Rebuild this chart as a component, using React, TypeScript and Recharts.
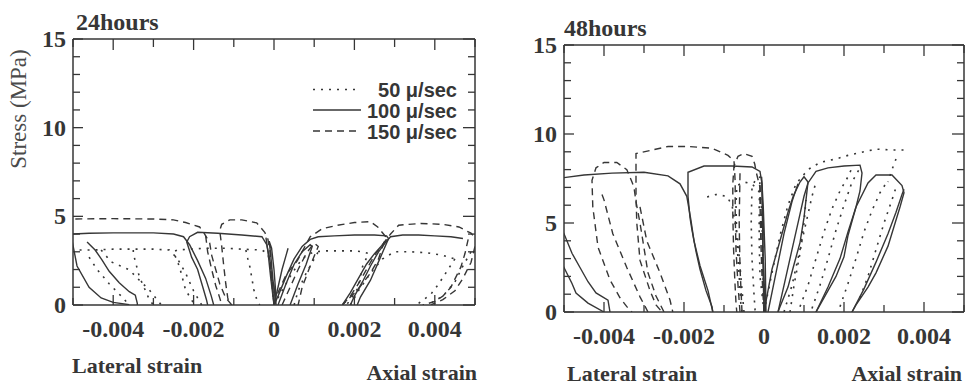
import React from 'react';
import { LineChart, Line, XAxis, YAxis } from 'recharts';

type Pt = [number, number];

// ---------- axis ticks ----------
const X_TICKS = [-0.005, -0.004, -0.003, -0.002, -0.001, 0, 0.001, 0.002, 0.003, 0.004, 0.005];
const X_LABELED = [-0.004, -0.002, 0, 0.002, 0.004];
const Y_TICKS = [0, 1, 2, 3, 4, 5, 6, 7, 8, 9, 10, 11, 12, 13, 14, 15];
const Y_LABELED = [0, 5, 10, 15];

// ---------- 24 hours : 100 µ/sec (solid) ----------
const S24_1: Pt[] = [[0, 0], [-0.00004, 1.2], [-0.0001, 2.5], [-0.00018, 3.4], [-0.0003, 3.85], [-0.0008, 3.95], [-0.0014, 4.05], [-0.0019, 4.1], [-0.0021, 3.85], [-0.00217, 3.55], [-0.00205, 2.7], [-0.0019, 2.0], [-0.00177, 1.0], [-0.00168, 0.3], [-0.00165, 0]];
const S24_2: Pt[] = [[-0.0015, 0], [-0.00156, 0.5], [-0.0017, 1.5], [-0.0019, 2.5], [-0.0021, 3.4], [-0.00225, 3.85], [-0.0025, 4.0], [-0.003, 4.07], [-0.004, 4.07], [-0.0046, 4.05], [-0.005, 4.0], [-0.0052, 3.9]];
const S24_3: Pt[] = [[-0.0052, 3.9], [-0.00502, 3.6], [-0.0049, 2.2], [-0.0046, 1.0], [-0.0043, 0.4], [-0.004, 0.15], [-0.0036, 0.02]];
const S24_4: Pt[] = [[-0.00465, 3.55], [-0.00445, 3.1], [-0.00428, 2.55], [-0.0041, 1.9], [-0.00385, 1.25], [-0.0036, 0.75], [-0.00345, 0.55], [-0.0034, 0.1], [-0.0034, 0]];
const S24_5: Pt[] = [[0.00005, 0], [-0.00003, 1.5], [-0.00008, 2.8], [-0.00012, 3.6], [-0.00006, 3.2], [0, 2.0], [0.00004, 0.8], [0.00005, 0]];
const S24_6: Pt[] = [[0, 0], [0.0001, 0.5], [0.0003, 1.6], [0.0005, 2.6], [0.0007, 3.3], [0.0009, 3.7], [0.0011, 3.85], [0.0015, 3.9], [0.002, 3.95], [0.0025, 3.95], [0.0028, 3.9], [0.00285, 3.75], [0.00265, 2.7], [0.0024, 1.4], [0.00215, 0.45], [0.00207, 0]];
const S24_7: Pt[] = [[0.0019, 0], [0.002, 0.5], [0.0022, 1.3], [0.0024, 2.2], [0.0026, 3.0], [0.0028, 3.6], [0.0029, 3.85], [0.0032, 3.95], [0.0036, 3.95], [0.004, 3.9], [0.0044, 3.85], [0.0047, 3.75]];
const S24_8: Pt[] = [[0.0001, 0], [0.0003, 1.2], [0.0005, 2.3], [0.0007, 3.0], [0.0009, 3.4], [0.00095, 3.3], [0.0008, 2.3], [0.0006, 1.2], [0.00045, 0.3], [0.0004, 0]];
const S24_9: Pt[] = [[0.0017, 0], [0.0019, 0.7], [0.0021, 1.5], [0.0023, 2.3], [0.0025, 2.9], [0.0027, 3.4], [0.0028, 3.7]];
const S24_10: Pt[] = [[0, 0], [0.0001, 1.0], [0.0002, 2.0], [0.0003, 2.8], [0.00035, 3.2]];
const S24_11: Pt[] = [[0, 0], [-0.00008, 1.5], [-0.00015, 3.0], [-0.0002, 3.8]];

// ---------- 24 hours : 150 µ/sec (dashed) ----------
const D24_1: Pt[] = [[0, 0], [-0.00004, 1.2], [-0.00008, 2.2], [-0.0001, 3.0], [-0.00015, 3.7], [-0.00023, 4.1], [-0.00043, 4.63], [-0.0008, 4.8], [-0.0011, 4.8], [-0.0013, 4.55], [-0.00135, 4.2], [-0.0013, 3.3], [-0.00125, 2.2], [-0.0012, 1.2], [-0.00115, 0.4], [-0.0011, 0]];
const D24_2: Pt[] = [[-0.00105, 0], [-0.0012, 0.4], [-0.00135, 1.2], [-0.00145, 2.0], [-0.00155, 2.8], [-0.0016, 3.5], [-0.00175, 4.1], [-0.00185, 4.4], [-0.0022, 4.65], [-0.0025, 4.8], [-0.003, 4.85], [-0.004, 4.87], [-0.005, 4.85]];
const D24_3: Pt[] = [[-0.0017, 3.9], [-0.00165, 3.0], [-0.00155, 2.0], [-0.00145, 1.1], [-0.00135, 0.4], [-0.0013, 0]];
const D24_4: Pt[] = [[0, 0], [0.0001, 0.7], [0.0003, 1.7], [0.00058, 2.5], [0.0009, 3.85], [0.0012, 4.3], [0.00158, 4.5], [0.002, 4.65], [0.0024, 4.7], [0.00258, 4.4], [0.00278, 3.85], [0.00273, 3.5], [0.0026, 2.6], [0.0024, 1.8], [0.00208, 0.85], [0.00183, 0.3], [0.0017, 0]];
const D24_5: Pt[] = [[0.0017, 0], [0.0019, 0.5], [0.0021, 1.2], [0.0023, 2.0], [0.0025, 2.8], [0.0027, 3.4], [0.0029, 4.0], [0.0031, 4.5], [0.00365, 4.6], [0.0042, 4.55], [0.0046, 4.4], [0.0049, 4.05], [0.00505, 3.7]];
const D24_6: Pt[] = [[0.00483, 3.7], [0.00475, 2.9], [0.00465, 2.15], [0.0044, 1.0], [0.0042, 0.5], [0.004, 0.2], [0.0037, 0]];
const D24_7: Pt[] = [[0.005, 3.3], [0.0049, 2.4], [0.0047, 1.5], [0.0045, 0.8], [0.0042, 0.3], [0.0039, 0]];
const D24_8: Pt[] = [[0.0002, 0], [0.0004, 1.0], [0.0006, 2.0], [0.0008, 2.9], [0.001, 3.5], [0.0011, 3.3], [0.0009, 2.2], [0.0007, 1.0], [0.0006, 0]];

// ---------- 24 hours : 50 µ/sec (dotted) ----------
const O24_1: Pt[] = [[0, 0], [-0.00005, 1.2], [-0.0001, 2.3], [-0.00015, 2.9], [-0.0003, 3.1], [-0.0008, 3.15], [-0.0012, 3.2], [-0.0017, 3.2], [-0.0021, 3.15], [-0.0024, 3.1], [-0.0025, 3.0], [-0.00235, 2.15], [-0.0022, 0.85], [-0.002, 0.1], [-0.0019, 0]];
const O24_2: Pt[] = [[-0.0018, 0], [-0.002, 0.8], [-0.0022, 1.8], [-0.0024, 2.6], [-0.0026, 3.1], [-0.003, 3.15], [-0.0035, 3.15], [-0.004, 3.15], [-0.0045, 3.1], [-0.0049, 3.1]];
const O24_3: Pt[] = [[-0.0043, 3.1], [-0.00405, 2.43], [-0.0036, 1.98], [-0.00335, 1.4], [-0.0031, 0.85], [-0.0029, 0.28], [-0.0028, 0]];
const O24_4: Pt[] = [[-0.0035, 3.1], [-0.0035, 2.9], [-0.00335, 1.6], [-0.0031, 0.3], [-0.003, 0]];
const O24_5: Pt[] = [[-0.0007, 3.1], [-0.00065, 2.6], [-0.0006, 2.15], [-0.0005, 0.85], [-0.0004, 0.1], [-0.00035, 0]];
const O24_6: Pt[] = [[-0.0046, 2.7], [-0.0044, 2.0], [-0.0041, 1.2], [-0.0038, 0.5], [-0.0036, 0]];
const O24_7: Pt[] = [[0, 0], [0.0002, 0.8], [0.0004, 1.6], [0.0006, 2.3], [0.0008, 2.8], [0.001, 3.0], [0.0013, 3.05], [0.0016, 3.05], [0.002, 3.05], [0.0022, 3.0], [0.00235, 2.9], [0.0022, 2.15], [0.0021, 1.0], [0.0019, 0.3], [0.0018, 0]];
const O24_8: Pt[] = [[0.0019, 0], [0.0021, 0.8], [0.0024, 1.8], [0.0027, 2.6], [0.003, 3.0], [0.0034, 3.0], [0.0038, 2.95], [0.0042, 2.8], [0.0045, 2.6]];
const O24_9: Pt[] = [[0.0045, 2.6], [0.0043, 1.9], [0.0041, 1.2], [0.0039, 0.6], [0.0036, 0.1], [0.0035, 0]];
const O24_10: Pt[] = [[0.0049, 3.0], [0.0047, 2.2], [0.0045, 1.3], [0.0042, 0.5], [0.0039, 0.1]];
const O24_11: Pt[] = [[0.0005, 0], [0.0006, 0.8], [0.0008, 1.8], [0.001, 2.6], [0.0011, 3.0]];

// ---------- 48 hours : 100 µ/sec (solid) ----------
const S48_1: Pt[] = [[0, 0], [-0.00002, 2], [-0.00003, 4], [-0.00004, 6], [-0.00005, 7.2], [-0.0001, 7.9], [-0.0003, 8.15], [-0.0008, 8.2], [-0.0015, 8.2], [-0.0019, 7.85], [-0.0019, 6.5], [-0.00185, 5.3], [-0.0018, 4.6], [-0.0017, 3.4], [-0.0016, 2.4], [-0.00145, 1.2], [-0.0013, 0.3], [-0.00128, 0]];
const S48_2: Pt[] = [[-0.00128, 0], [-0.0014, 1.2], [-0.0016, 2.6], [-0.00175, 4.0], [-0.00183, 5.2], [-0.00193, 6.5], [-0.0021, 7.2], [-0.0024, 7.65], [-0.003, 7.85], [-0.0038, 7.8], [-0.0045, 7.7], [-0.005, 7.55]];
const S48_3: Pt[] = [[-0.00505, 4.6], [-0.005, 4.4], [-0.0048, 3.3], [-0.0046, 2.5], [-0.0044, 1.7], [-0.0042, 1.07], [-0.0039, 0.67], [-0.00385, 0]];
const S48_4: Pt[] = [[-0.00505, 2.7], [-0.005, 2.5], [-0.0048, 1.6], [-0.0047, 1.07], [-0.0044, 0.5], [-0.004, 0]];
const S48_5: Pt[] = [[0.00003, 0], [-0.00002, 3], [-0.00004, 6], [-0.00006, 7.6], [-0.00002, 6.0], [0.00003, 3.0], [0.00005, 0]];
const S48_6: Pt[] = [[0, 0], [0.0001, 1.2], [0.0002, 2.4], [0.0004, 4.0], [0.0006, 5.6], [0.00073, 6.5], [0.0009, 7.3], [0.001, 7.6], [0.0011, 7.3], [0.00105, 6.3], [0.001, 5.3], [0.0009, 3.9], [0.00073, 2.5], [0.0006, 1.4], [0.0004, 0.3], [0.00035, 0]];
const S48_7: Pt[] = [[0.00035, 0], [0.0005, 1.5], [0.0007, 3.5], [0.0009, 5.5], [0.001, 6.5], [0.0011, 7.25], [0.0013, 7.9], [0.0016, 8.1], [0.002, 8.2], [0.0024, 8.25], [0.00245, 7.8], [0.0024, 6.8], [0.0023, 5.9], [0.0021, 4.3], [0.002, 3.1], [0.0018, 2.0], [0.0016, 1.2], [0.0014, 0.4], [0.0013, 0]];
const S48_8: Pt[] = [[0.0013, 0], [0.0016, 1.4], [0.0019, 3.0], [0.0021, 4.5], [0.0023, 5.9], [0.0026, 7.25], [0.0028, 7.7], [0.0032, 7.7], [0.00345, 7.1], [0.0035, 6.7], [0.0034, 5.9], [0.0031, 3.7], [0.0028, 2.2], [0.0026, 1.4], [0.0023, 0.4], [0.0022, 0]];
const S48_9: Pt[] = [[0.0022, 0], [0.0025, 1.3], [0.0028, 2.8], [0.0031, 4.4], [0.0033, 5.6], [0.00345, 6.6], [0.0035, 6.9]];
const S48_10: Pt[] = [[0.0001, 0], [0.0003, 2.2], [0.0005, 4.4], [0.0007, 6.2], [0.00085, 7.2]];

// ---------- 48 hours : 150 µ/sec (dashed) ----------
const D48_1: Pt[] = [[0, 0], [-0.00003, 2.5], [-0.00006, 5], [-0.0001, 7.0], [-0.0002, 7.9], [-0.00023, 8.3], [-0.0003, 8.75], [-0.0005, 8.9], [-0.00065, 8.75], [-0.00075, 8.2], [-0.00078, 7.2], [-0.00078, 5.5], [-0.00076, 3.5], [-0.00073, 1.8], [-0.0007, 0.5], [-0.00068, 0]];
const D48_2: Pt[] = [[-0.0006, 0], [-0.00065, 1.5], [-0.0007, 3.5], [-0.00072, 5.5], [-0.00072, 7.3], [-0.00075, 8.5], [-0.0009, 8.8], [-0.0013, 9.2], [-0.0019, 9.3], [-0.0024, 9.3], [-0.0028, 9.1], [-0.0032, 8.9], [-0.0032, 7.8], [-0.0032, 6.5], [-0.00318, 5], [-0.0031, 2.9], [-0.00285, 1.2], [-0.0027, 0.4], [-0.00255, 0]];
const D48_3: Pt[] = [[-0.0025, 0], [-0.0027, 0.9], [-0.0029, 2.2], [-0.003, 3.6], [-0.0031, 5.0], [-0.0032, 6.2], [-0.00325, 7.0], [-0.0033, 7.3], [-0.00343, 8.0], [-0.00368, 8.4], [-0.004, 8.4], [-0.0042, 8.1], [-0.0043, 7.4], [-0.00428, 5.9], [-0.00415, 3.65], [-0.00385, 1.8], [-0.0036, 0.8], [-0.00343, 0.3], [-0.0033, 0]];
const D48_4: Pt[] = [[-0.00405, 6.6], [-0.004, 6.3], [-0.00378, 4.4], [-0.00343, 2.5], [-0.0031, 0.85], [-0.0029, 0]];
const D48_5: Pt[] = [[-0.0031, 5.9], [-0.00293, 4.0], [-0.0026, 2.2], [-0.00235, 0.67], [-0.00228, 0]];
const D48_6: Pt[] = [[-0.0006, 7.8], [-0.00062, 5], [-0.0006, 2.5], [-0.00055, 0]];
const D48_7: Pt[] = [[0, 0], [-0.00005, 2], [-0.00008, 4], [-0.0001, 6], [-0.0001, 7.2]];

// ---------- 48 hours : 50 µ/sec (dotted) ----------
const O48_1: Pt[] = [[0, 0], [-0.00003, 3], [-0.00005, 5.5], [-0.0001, 6.7], [-0.0003, 7.2], [-0.0005, 7.3], [-0.00068, 7.1], [-0.0007, 6.0], [-0.00068, 4.0], [-0.00062, 2.0], [-0.00058, 0.5], [-0.00055, 0]];
const O48_2: Pt[] = [[-0.0005, 0], [-0.00058, 2], [-0.00065, 4], [-0.0008, 6.0], [-0.00093, 6.5], [-0.0012, 6.6], [-0.00153, 6.4]];
const O48_3: Pt[] = [[-0.00008, 7.6], [-0.0002, 7.5], [-0.0003, 7.0], [-0.00032, 5], [-0.0003, 3], [-0.00025, 1], [-0.00022, 0]];
const O48_4: Pt[] = [[0, 0], [-0.0001, 2], [-0.00012, 4], [-0.00012, 6], [-0.0001, 7.5]];
const O48_5: Pt[] = [[0, 0], [0.0002, 2.2], [0.0004, 4.3], [0.0006, 6.0], [0.0008, 7.2], [0.0011, 8.0], [0.0014, 8.4], [0.0018, 8.6], [0.0021, 8.8], [0.0025, 9.0], [0.0028, 9.15], [0.0032, 9.1], [0.0035, 9.1]];
const O48_6: Pt[] = [[0.0033, 8.6], [0.0032, 8.0], [0.0031, 7.3]];
const O48_7: Pt[] = [[0.0005, 0], [0.0007, 1.5], [0.0009, 3.5], [0.0011, 5.5], [0.0012, 6.5], [0.0013, 7.3]];
const O48_8: Pt[] = [[0.0009, 0.3], [0.0011, 1.5], [0.0013, 3.0], [0.0015, 4.5], [0.0017, 5.8], [0.0019, 6.8], [0.0021, 7.6], [0.0022, 8.1]];
const O48_9: Pt[] = [[0.0012, 0.2], [0.0014, 1.5], [0.0016, 3.0], [0.0018, 4.6], [0.002, 6.0], [0.0022, 7.3], [0.0024, 8.1]];
const O48_10: Pt[] = [[0.0019, 0.3], [0.0021, 1.6], [0.0023, 3.0], [0.0025, 4.5], [0.0027, 5.7], [0.0029, 6.7], [0.0031, 7.4]];
const O48_11: Pt[] = [[0.0024, 0.8], [0.0026, 2.0], [0.0028, 3.5], [0.003, 5.0], [0.0032, 6.3], [0.0033, 7.0]];
const O48_12: Pt[] = [[0.00065, 0], [0.00075, 1.5], [0.0009, 3.3], [0.001, 5], [0.00105, 6.3]];

const SOLID_24 = [S24_1, S24_2, S24_3, S24_4, S24_5, S24_6, S24_7, S24_8, S24_9, S24_10, S24_11];
const DASHED_24 = [D24_1, D24_2, D24_3, D24_4, D24_5, D24_6, D24_7, D24_8];
const DOTTED_24 = [O24_1, O24_2, O24_3, O24_4, O24_5, O24_6, O24_7, O24_8, O24_9, O24_10, O24_11];
const SOLID_48 = [S48_1, S48_2, S48_3, S48_4, S48_5, S48_6, S48_7, S48_8, S48_9, S48_10];
const DASHED_48 = [D48_1, D48_2, D48_3, D48_4, D48_5, D48_6, D48_7];
const DOTTED_48 = [O48_1, O48_2, O48_3, O48_4, O48_5, O48_6, O48_7, O48_8, O48_9, O48_10, O48_11, O48_12];

const LEGEND_LABELS = ['50 μ/sec', '100 μ/sec', '150 μ/sec'];

// ---------- styles ----------
const INK = '#363636';
const DOT = '2 6';
const DASH = '7 5';
const SERIF = '"Liberation Serif", "Times New Roman", serif';
const SANS = '"Liberation Sans", Arial, sans-serif';

const toData = (pts: Pt[]) => pts.map(([x, y]) => ({ x, y }));
const near = (a: number, b: number) => Math.abs(a - b) < 1e-9;
const fmtX = (v: number) => (near(v, 0) ? '0' : v.toFixed(3));

const labelText = { fontFamily: SERIF, fontWeight: 700, fontSize: 24, fill: INK } as const;

const XTickBottom = (props: any) => {
  const { x, y, payload } = props;
  const v = payload.value as number;
  const major = X_LABELED.some((t) => near(t, v));
  return (
    <g>
      <line x1={x} x2={x} y1={y} y2={y - (major ? 10 : 7)} stroke={INK} strokeWidth={1.3} />
      {major && (
        <text x={x} y={y + 32} textAnchor="middle" {...labelText}>
          {fmtX(v)}
        </text>
      )}
    </g>
  );
};

const XTickTop = (props: any) => {
  const { x, y, payload } = props;
  const v = payload.value as number;
  const major = X_LABELED.some((t) => near(t, v));
  return <line x1={x} x2={x} y1={y} y2={y + (major ? 11 : 8)} stroke={INK} strokeWidth={1.3} />;
};

const YTickLeft = (props: any) => {
  const { x, y, payload } = props;
  const v = payload.value as number;
  const major = Y_LABELED.includes(v);
  return (
    <g>
      <line x1={x} x2={x + (major ? 10 : 7)} y1={y} y2={y} stroke={INK} strokeWidth={1.3} />
      {major && (
        <text x={x - 7} y={y + 8} textAnchor="end" {...labelText}>
          {String(v)}
        </text>
      )}
    </g>
  );
};

const YTickRight = (props: any) => {
  const { x, y, payload } = props;
  const v = payload.value as number;
  const major = Y_LABELED.includes(v);
  return <line x1={x} x2={x - (major ? 12 : 7)} y1={y} y2={y} stroke={INK} strokeWidth={1.3} />;
};

const axisLine = { stroke: INK, strokeWidth: 1.5 };

function Panel(props: {
  width: number;
  height: number;
  margin: { top: number; right: number; bottom: number; left: number };
  rightWidth: number;
  solid: Pt[][];
  dashed: Pt[][];
  dotted: Pt[][];
}) {
  const { width, height, margin, rightWidth, solid, dashed, dotted } = props;
  const common = {
    type: 'linear' as const,
    dataKey: 'y',
    dot: false,
    activeDot: false,
    isAnimationActive: false,
    stroke: INK,
    strokeWidth: 1.4,
    xAxisId: 'b',
    yAxisId: 'l',
  };
  return (
    <LineChart width={width} height={height} margin={margin}>
      <XAxis
        xAxisId="b"
        dataKey="x"
        type="number"
        domain={[-0.005, 0.005]}
        allowDataOverflow
        ticks={X_TICKS}
        interval={0}
        tick={XTickBottom}
        tickLine={false}
        tickSize={0}
        tickMargin={0}
        height={30}
        axisLine={axisLine}
      />
      <XAxis
        xAxisId="t"
        orientation="top"
        dataKey="x"
        type="number"
        domain={[-0.005, 0.005]}
        allowDataOverflow
        ticks={X_TICKS}
        interval={0}
        tick={XTickTop}
        tickLine={false}
        tickSize={0}
        tickMargin={0}
        height={20}
        axisLine={axisLine}
      />
      <YAxis
        yAxisId="l"
        type="number"
        domain={[0, 15]}
        allowDataOverflow
        ticks={Y_TICKS}
        interval={0}
        tick={YTickLeft}
        tickLine={false}
        tickSize={0}
        tickMargin={0}
        width={60}
        axisLine={axisLine}
      />
      <YAxis
        yAxisId="r"
        orientation="right"
        type="number"
        domain={[0, 15]}
        allowDataOverflow
        ticks={Y_TICKS}
        interval={0}
        tick={YTickRight}
        tickLine={false}
        tickSize={0}
        tickMargin={0}
        width={rightWidth}
        axisLine={axisLine}
      />
      {dotted.map((pts, i) => (
        <Line key={'o' + i} {...common} data={toData(pts)} strokeDasharray={DOT} strokeWidth={1.6} />
      ))}
      {dashed.map((pts, i) => (
        <Line key={'d' + i} {...common} data={toData(pts)} strokeDasharray={DASH} />
      ))}
      {solid.map((pts, i) => (
        <Line key={'s' + i} {...common} data={toData(pts)} />
      ))}
    </LineChart>
  );
}

export default function App() {
  const legendRows = [
    { label: LEGEND_LABELS[0], dash: DOT, cy: 89.5 },
    { label: LEGEND_LABELS[1], dash: undefined, cy: 110 },
    { label: LEGEND_LABELS[2], dash: DASH, cy: 131 },
  ];
  const captionFont = { fontFamily: SERIF, fontWeight: 700, fontSize: 22, fill: INK };
  const titleFont = { fontFamily: SERIF, fontWeight: 700, fontSize: 24, fill: INK };
  return (
    <div style={{ position: 'absolute', left: 0, top: 0, width: 965, height: 387, background: '#fff', overflow: 'hidden' }}>
      <div style={{ position: 'absolute', left: 0, top: 0 }}>
        <Panel
          width={490}
          height={387}
          margin={{ top: 19, right: 0, bottom: 52, left: 13 }}
          rightWidth={15}
          solid={SOLID_24}
          dashed={DASHED_24}
          dotted={DOTTED_24}
        />
      </div>
      <div style={{ position: 'absolute', left: 480, top: 0 }}>
        <Panel
          width={485}
          height={387}
          margin={{ top: 25, right: 0, bottom: 45, left: 24 }}
          rightWidth={1}
          solid={SOLID_48}
          dashed={DASHED_48}
          dotted={DOTTED_48}
        />
      </div>

      <svg
        width={965}
        height={387}
        style={{ position: 'absolute', left: 0, top: 0, pointerEvents: 'none' }}
      >
        {/* titles */}
        <text x={76} y={30} {...titleFont}>24hours</text>
        <text x={564} y={36} {...titleFont}>48hours</text>

        {/* y axis label */}
        <text
          x={26}
          y={109}
          textAnchor="middle"
          transform="rotate(-90, 26, 109)"
          fontFamily={SERIF}
          fontSize={23}
          fontWeight={400}
          fill="#4a4a4a"
        >
          Stress (MPa)
        </text>

        {/* x axis captions */}
        <text x={72} y={373} {...captionFont}>Lateral strain</text>
        <text x={477} y={380} textAnchor="end" {...captionFont}>Axial strain</text>
        <text x={567} y={381} {...captionFont}>Lateral strain</text>
        <text x={962} y={381} textAnchor="end" {...captionFont}>Axial strain</text>

        {/* legend */}
        {legendRows.map((r) => (
          <g key={r.label}>
            <line x1={313} x2={361} y1={r.cy} y2={r.cy} stroke={INK} strokeWidth={1.5} strokeDasharray={r.dash} />
            <text
              x={457}
              y={r.cy + 7.5}
              textAnchor="end"
              fontFamily={SANS}
              fontWeight={700}
              fontSize={20}
              fill={INK}
            >
              {r.label}
            </text>
          </g>
        ))}
      </svg>
    </div>
  );
}
